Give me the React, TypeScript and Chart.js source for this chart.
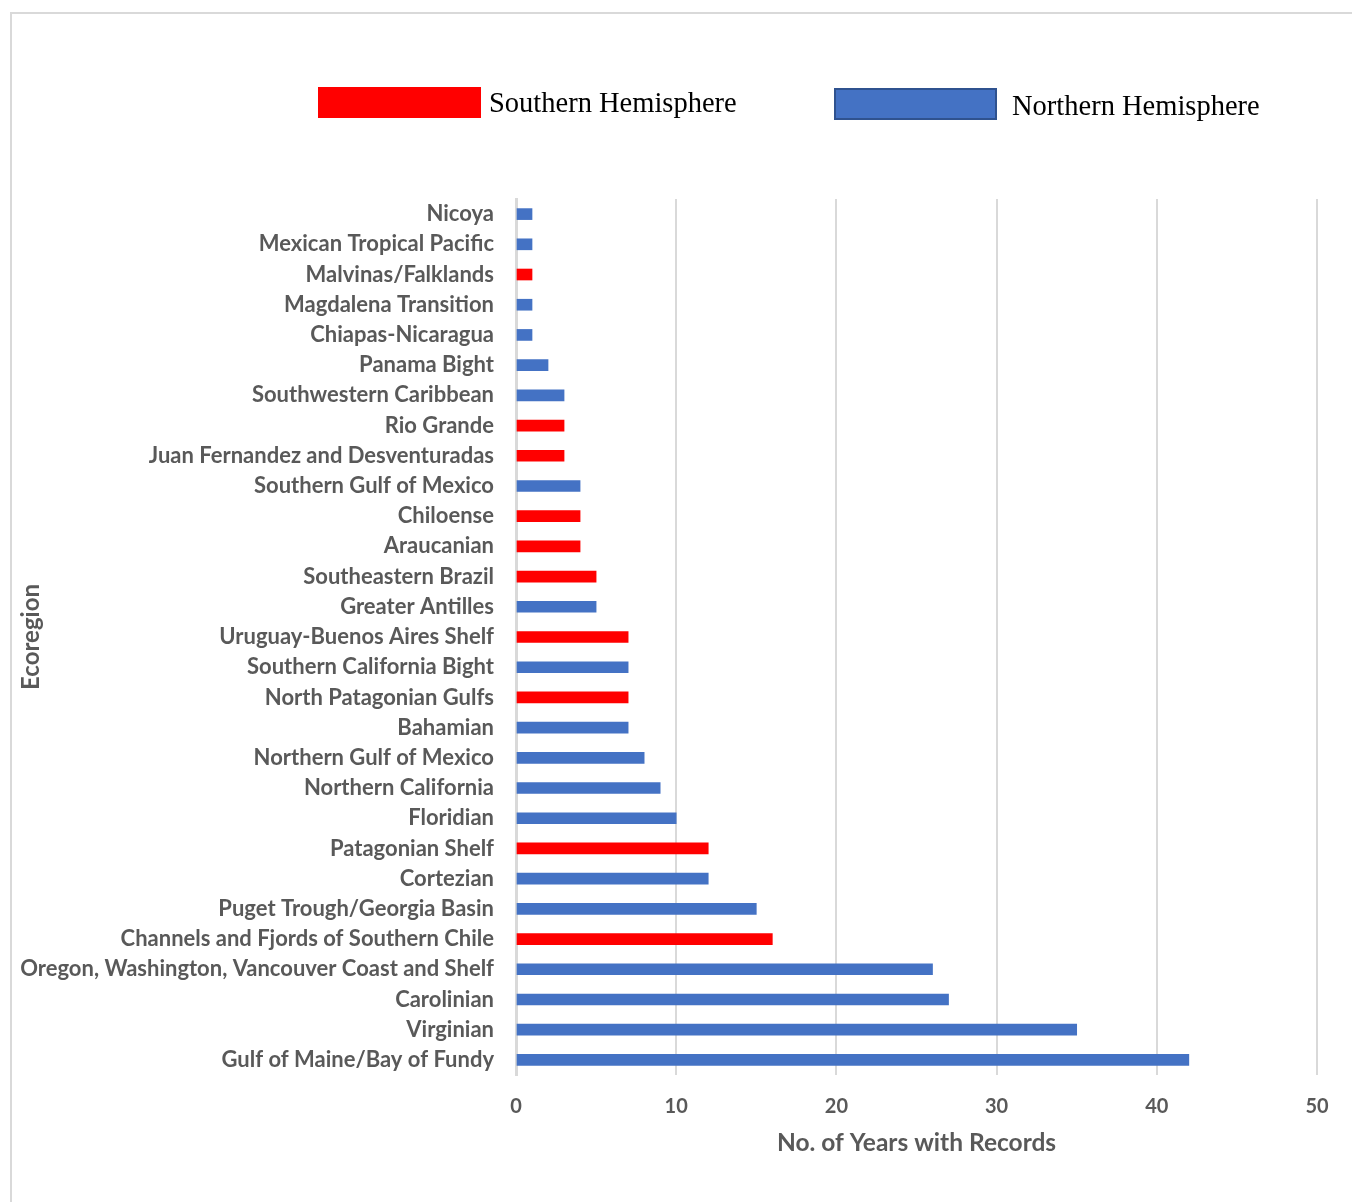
import React, { useEffect, useRef } from "react";
import { Chart, registerables } from "chart.js";

Chart.register(...registerables);

const regions: string[] = [
  "Nicoya",
  "Mexican Tropical Pacific",
  "Malvinas/Falklands",
  "Magdalena Transition",
  "Chiapas-Nicaragua",
  "Panama Bight",
  "Southwestern Caribbean",
  "Rio Grande",
  "Juan Fernandez and Desventuradas",
  "Southern Gulf of Mexico",
  "Chiloense",
  "Araucanian",
  "Southeastern Brazil",
  "Greater Antilles",
  "Uruguay-Buenos Aires Shelf",
  "Southern California Bight",
  "North Patagonian Gulfs",
  "Bahamian",
  "Northern Gulf of Mexico",
  "Northern California",
  "Floridian",
  "Patagonian Shelf",
  "Cortezian",
  "Puget Trough/Georgia Basin",
  "Channels and Fjords of Southern Chile",
  "Oregon, Washington, Vancouver Coast and Shelf",
  "Carolinian",
  "Virginian",
  "Gulf of Maine/Bay of Fundy",
];

const years: number[] = [
  1, 1, 1, 1, 1, 2, 3, 3, 3, 4, 4, 4, 5, 5, 7, 7, 7, 7, 8, 9, 10, 12, 12, 15, 16, 26, 27, 35, 42,
];

// "S" = Southern Hemisphere, "N" = Northern Hemisphere
const hemisphere: string[] = [
  "N", "N", "S", "N", "N", "N", "N", "S", "S", "N", "S", "S", "S", "N", "S",
  "N", "S", "N", "N", "N", "N", "S", "N", "N", "S", "N", "N", "N", "N",
];

const seriesNames: string[] = ["Southern Hemisphere", "Northern Hemisphere"];
const xTicks: number[] = [0, 10, 20, 30, 40, 50];

const RED = "#ff0000";
const BLUE = "#4472c4";
const GRAY_TEXT = "#595959";
const GRID = "#d9d9d9";
const LABEL_FONT = "Lato, 'Open Sans', sans-serif";
const SERIF = "'Liberation Serif', 'DejaVu Serif', serif";

const legendPlugin = {
  id: "customLegend",
  afterDraw(chart: any) {
    const ctx = chart.ctx;
    const ds = chart.data.datasets;
    ctx.save();
    // Southern
    ctx.fillStyle = ds[0].backgroundColor;
    ctx.fillRect(318, 87, 163, 31);
    ctx.font = `28.5px ${SERIF}`;
    ctx.fillStyle = "#000000";
    ctx.textBaseline = "middle";
    ctx.textAlign = "left";
    ctx.fillText(ds[0].label, 489, 105);
    // Northern
    ctx.fillStyle = ds[1].backgroundColor;
    ctx.fillRect(835, 89, 161, 30);
    ctx.strokeStyle = "#2f528f";
    ctx.lineWidth = 2;
    ctx.strokeRect(835, 89, 161, 30);
    ctx.fillStyle = "#000000";
    ctx.fillText(ds[1].label, 1012, 108);
    ctx.restore();
  },
};

export default function App() {
  const ref = useRef<HTMLCanvasElement | null>(null);

  useEffect(() => {
    if (!ref.current) return;
    const south = years.map((v, i) => (hemisphere[i] === "S" ? v : null));
    const north = years.map((v, i) => (hemisphere[i] === "N" ? v : null));
    const chart = new Chart(ref.current, {
      type: "bar",
      data: {
        labels: regions,
        datasets: [
          {
            label: seriesNames[0],
            data: south,
            backgroundColor: RED,
            barThickness: 11,
            grouped: false,
          } as any,
          {
            label: seriesNames[1],
            data: north,
            backgroundColor: BLUE,
            barThickness: 11,
            grouped: false,
          } as any,
        ],
      },
      options: {
        indexAxis: "y",
        animation: false,
        responsive: false,
        maintainAspectRatio: false,
        layout: { padding: { top: 199, right: 35, bottom: 0, left: 0 } },
        plugins: {
          legend: { display: false },
          tooltip: { enabled: false },
          title: { display: false },
        },
        scales: {
          x: {
            min: 0,
            max: 50,
            afterBuildTicks: (scale: any) => {
              scale.ticks = xTicks.map((v) => ({ value: v }));
            },
            afterFit: (scale: any) => {
              scale.height = 127;
            },
            grid: {
              color: GRID,
              lineWidth: 2,
              drawTicks: false,
            },
            border: { display: false },
            ticks: {
              color: GRAY_TEXT,
              padding: 20,
              font: { family: LABEL_FONT, size: 20, weight: "bold" },
            },
            title: {
              display: true,
              text: "No. of Years with Records",
              color: GRAY_TEXT,
              font: { family: LABEL_FONT, size: 24.5, weight: "bold" },
              padding: { top: 0, bottom: 44 },
            },
          },
          y: {
            afterFit: (scale: any) => {
              scale.width = 516;
            },
            grid: { display: false, drawTicks: false },
            border: { display: true, color: GRID, width: 3 },
            ticks: {
              color: GRAY_TEXT,
              padding: 22,
              autoSkip: false,
              font: { family: LABEL_FONT, size: 22, weight: "bold" },
            },
            title: {
              display: true,
              text: "Ecoregion",
              color: GRAY_TEXT,
              font: { family: LABEL_FONT, size: 24, weight: "bold" },
              padding: { top: 17, bottom: 0 },
            },
          },
        },
      } as any,
      plugins: [legendPlugin],
    });
    return () => chart.destroy();
  }, []);

  return (
    <div style={{ position: "absolute", left: 0, top: 0, width: 1352, height: 1202, background: "#fff" }}>
      <div
        style={{
          position: "absolute",
          left: 10,
          top: 12,
          right: 0,
          bottom: 0,
          borderLeft: "2px solid #d9d9d9",
          borderTop: "2px solid #d9d9d9",
        }}
      />
      <canvas ref={ref} width={1352} height={1202} style={{ position: "absolute", left: 0, top: 0 }} />
    </div>
  );
}
